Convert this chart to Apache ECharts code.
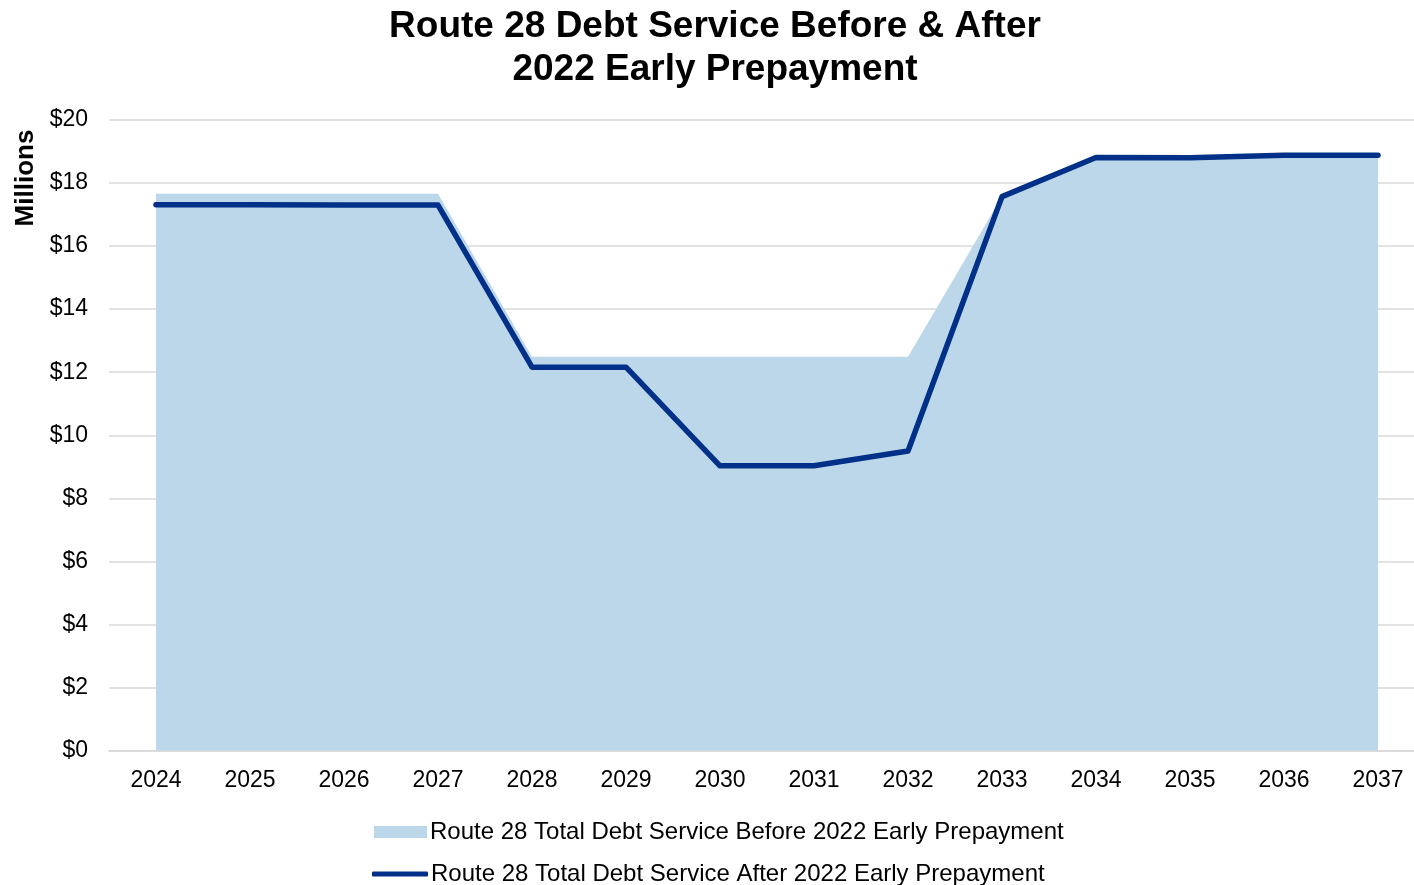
<!DOCTYPE html>
<html>
<head>
<meta charset="utf-8">
<script src="https://cdn.jsdelivr.net/npm/echarts@6/dist/echarts.min.js"></script>
<style>
  html, body { margin: 0; padding: 0; background: #fff; }
  #chart { width: 1414px; height: 885px; }
</style>
</head>
<body>
<div id="chart"></div>
<script>
// Route 28 debt service by fiscal year, $ millions
const years = ['2024', '2025', '2026', '2027', '2028', '2029', '2030', '2031', '2032', '2033', '2034', '2035', '2036', '2037'];
const beforePrepayment = [17.66, 17.66, 17.66, 17.66, 12.49, 12.49, 12.49, 12.49, 12.49, 17.57, 18.81, 18.80, 18.90, 18.90];
const afterPrepayment = [17.31, 17.31, 17.30, 17.30, 12.16, 12.16, 9.03, 9.03, 9.50, 17.57, 18.81, 18.80, 18.88, 18.88];
const yTicks = [0, 2, 4, 6, 8, 10, 12, 14, 16, 18, 20];

const nameBefore = 'Route 28 Total Debt Service Before 2022 Early Prepayment';
const nameAfter = 'Route 28 Total Debt Service After 2022 Early Prepayment';
const font = 'Arial, "Liberation Sans", sans-serif';
const areaColor = '#BDD7EA';
const lineColor = '#003087';

const legendText = { fontFamily: font, fontSize: 24, color: '#000', padding: [0, 0, 0, -2] };

const chart = echarts.init(document.getElementById('chart'), null, { renderer: 'canvas' });
chart.setOption({
  animation: false,
  backgroundColor: '#ffffff',
  textStyle: { fontFamily: font },
  title: {
    text: 'Route 28 Debt Service Before & After\n2022 Early Prepayment',
    left: 715,
    textAlign: 'center',
    top: 5,
    padding: 0,
    textStyle: { fontFamily: font, fontSize: 37, fontWeight: 'bold', color: '#000', lineHeight: 43 }
  },
  graphic: [{
    type: 'text',
    x: 13,
    y: 178,
    rotation: Math.PI / 2,
    style: {
      text: 'Millions',
      font: 'bold 26px ' + font,
      fill: '#000',
      align: 'center',
      verticalAlign: 'top'
    }
  }],
  legend: [
    {
      left: 374,
      top: 820,
      padding: 0,
      itemWidth: 53,
      itemHeight: 12,
      textStyle: legendText,
      data: [{ name: nameBefore, icon: 'rect', itemStyle: { color: areaColor } }]
    },
    {
      left: 372,
      top: 862,
      padding: 0,
      itemWidth: 56,
      itemHeight: 5,
      textStyle: legendText,
      data: [{ name: nameAfter, icon: 'roundRect', itemStyle: { color: lineColor } }]
    }
  ],
  grid: { left: 109, width: 1316, top: 120, height: 630.5, outerBoundsMode: 'none', containLabel: false },
  xAxis: {
    type: 'category',
    data: years,
    boundaryGap: true,
    axisLine: { show: true, lineStyle: { color: '#D9D9D9', width: 1.5 } },
    axisTick: { show: false },
    axisLabel: { fontFamily: font, fontSize: 23, color: '#000', margin: 19 }
  },
  yAxis: {
    type: 'value',
    min: yTicks[0],
    max: yTicks[yTicks.length - 1],
    interval: 2,
    axisLine: { show: false },
    axisTick: { show: false },
    splitLine: { lineStyle: { color: '#D9D9D9', width: 1.5 } },
    axisLabel: {
      fontFamily: font, fontSize: 23, color: '#000', margin: 21,
      formatter: v => '$' + v
    }
  },
  series: [
    {
      name: nameBefore,
      type: 'line',
      data: beforePrepayment,
      symbol: 'none',
      color: areaColor,
      lineStyle: { width: 0 },
      areaStyle: { color: areaColor, opacity: 1 },
      z: 1
    },
    {
      name: nameAfter,
      type: 'line',
      data: afterPrepayment,
      symbol: 'none',
      color: lineColor,
      lineStyle: { width: 5.5, color: lineColor, cap: 'round', join: 'round' },
      z: 2
    }
  ]
});
</script>
</body>
</html>
